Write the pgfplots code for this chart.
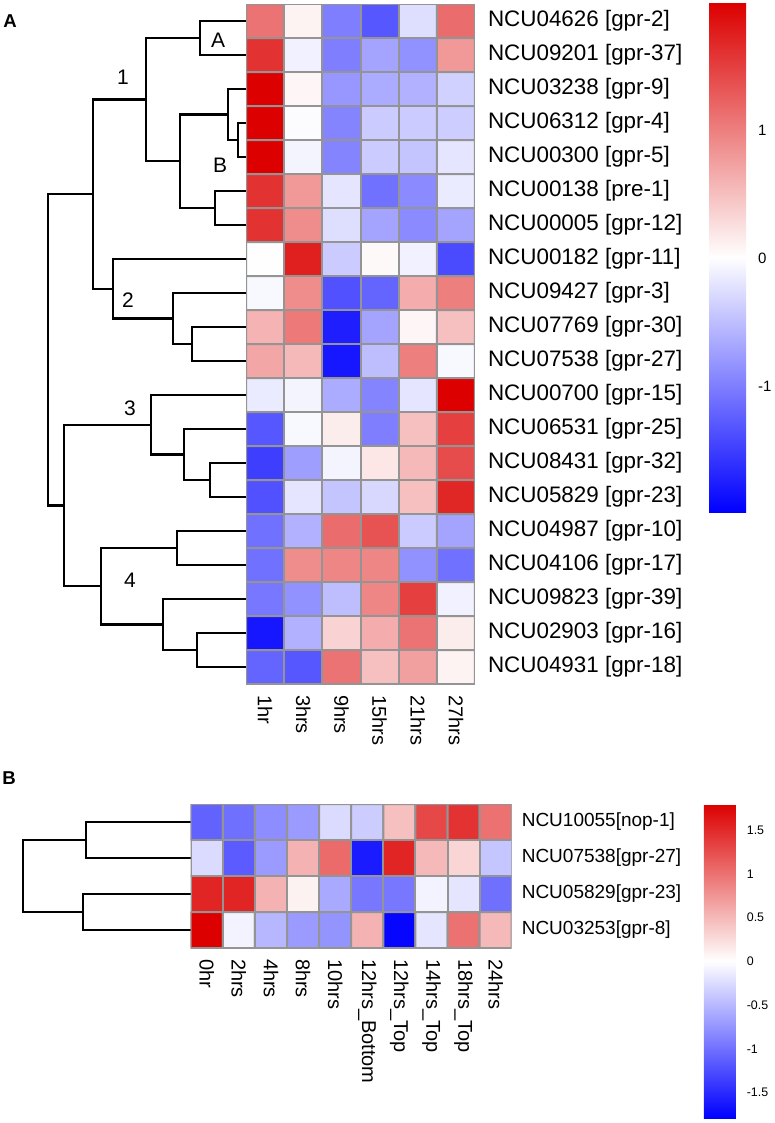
\documentclass[border=0pt]{standalone}
\usepackage{pgfplots}
\usepackage{pgfplotstable}
\usepackage{fontspec}
\setmainfont{Liberation Sans}
\pgfplotsset{compat=1.18}
\pgfplotsset{/pgf/number format/assume math mode=true}
\pgfplotsset{colormap={bwr}{rgb255=(0,0,255) rgb255=(255,255,255) rgb255=(220,0,0)}}

\pgfplotstableread{
x y c
0 0 1.1
1 0 0.1
2 0 -1.0
3 0 -1.3
4 0 -0.25
5 0 1.15
0 1 1.6
1 1 -0.1
2 1 -1.0
3 1 -0.7
4 1 -0.85
5 1 0.8
0 2 2.0
1 2 0.08
2 2 -0.8
3 2 -0.65
4 2 -0.6
5 2 -0.35
0 3 2.0
1 3 -0.02
2 3 -0.95
3 3 -0.4
4 3 -0.4
5 3 -0.38
0 4 2.0
1 4 -0.08
2 4 -0.95
3 4 -0.4
4 4 -0.45
5 4 -0.2
0 5 1.6
1 5 0.8
2 5 -0.2
3 5 -1.1
4 5 -0.9
5 5 -0.15
0 6 1.6
1 6 0.9
2 6 -0.25
3 6 -0.7
4 6 -0.9
5 6 -0.7
0 7 0.0
1 7 1.75
2 7 -0.4
3 7 0.05
4 7 -0.1
5 7 -1.4
0 8 -0.05
1 8 0.9
2 8 -1.35
3 8 -1.2
4 8 0.65
5 8 1.0
0 9 0.6
1 9 1.05
2 9 -1.75
3 9 -0.7
4 9 0.08
5 9 0.5
0 10 0.7
1 10 0.55
2 10 -1.8
3 10 -0.5
4 10 1.0
5 10 -0.05
0 11 -0.15
1 11 -0.08
2 11 -0.65
3 11 -0.95
4 11 -0.2
5 11 2.0
0 12 -1.3
1 12 -0.05
2 12 0.15
3 12 -1.0
4 12 0.5
5 12 1.5
0 13 -1.5
1 13 -0.75
2 13 -0.08
3 13 0.2
4 13 0.55
5 13 1.4
0 14 -1.35
1 14 -0.2
2 14 -0.45
3 14 -0.3
4 14 0.5
5 14 1.7
0 15 -1.1
1 15 -0.6
2 15 1.15
3 15 1.35
4 15 -0.4
5 15 -0.7
0 16 -1.1
1 16 0.9
2 16 0.95
3 16 0.95
4 16 -0.85
5 16 -1.1
0 17 -1.05
1 17 -0.85
2 17 -0.5
3 17 0.95
4 17 1.5
5 17 -0.1
0 18 -1.8
1 18 -0.6
2 18 0.35
3 18 0.65
4 18 1.1
5 18 0.15
0 19 -1.2
1 19 -1.3
2 19 1.1
3 19 0.5
4 19 0.75
5 19 0.1
}\dataA

\pgfplotstableread{
x y c
0 0 -1.1
1 0 -1.0
2 0 -0.8
3 0 -0.7
4 0 -0.25
5 0 -0.35
6 0 0.45
7 0 1.3
8 0 1.45
9 0 1.0
0 1 -0.25
1 1 -1.15
2 1 -0.7
3 1 0.55
4 1 1.05
5 1 -1.6
6 1 1.55
7 1 0.5
8 1 0.3
9 1 -0.4
0 2 1.55
1 2 1.55
2 2 0.55
3 2 0.1
4 2 -0.6
5 2 -0.95
6 2 -0.95
7 2 -0.08
8 2 -0.18
9 2 -1.0
0 3 1.8
1 3 -0.08
2 3 -0.5
3 3 -0.7
4 3 -0.75
5 3 0.55
6 3 -1.75
7 3 -0.18
8 3 1.0
9 3 0.5
}\dataB

\begin{document}
\begin{tikzpicture}
\useasboundingbox (0,0) rectangle (387.5pt,-561.5pt);

% ---------- canvas: dendrograms and labels (pixel coordinates) ----------
\begin{axis}[at={(0pt,0pt)}, anchor=north west, scale only axis,
  width=387.5pt, height=561.5pt, xmin=0, xmax=775, ymin=0, ymax=1123,
  y dir=reverse, hide axis, clip=false,
  dend/.style={black, line width=1.15pt, no marks}]
% panel A
\addplot[dend] coordinates {(246,21)(200,21)(200,55)(246,55)};
\addplot[dend] coordinates {(246,123)(238,123)(238,157)(246,157)};
\addplot[dend] coordinates {(246,89)(228,89)(228,140)(238,140)};
\addplot[dend] coordinates {(246,191)(215,191)(215,225)(246,225)};
\addplot[dend] coordinates {(228,114.5)(180,114.5)(180,208)(215,208)};
\addplot[dend] coordinates {(200,38)(146,38)(146,161.25)(180,161.25)};
\addplot[dend] coordinates {(246,327)(192,327)(192,361)(246,361)};
\addplot[dend] coordinates {(246,293)(173,293)(173,344)(192,344)};
\addplot[dend] coordinates {(246,259)(113,259)(113,318.5)(173,318.5)};
\addplot[dend] coordinates {(146,99.6)(93,99.6)(93,288.75)(113,288.75)};
\addplot[dend] coordinates {(246,463)(210,463)(210,497)(246,497)};
\addplot[dend] coordinates {(246,429)(184,429)(184,480)(210,480)};
\addplot[dend] coordinates {(246,395)(151,395)(151,454.5)(184,454.5)};
\addplot[dend] coordinates {(246,531)(177,531)(177,565)(246,565)};
\addplot[dend] coordinates {(246,633)(197,633)(197,667)(246,667)};
\addplot[dend] coordinates {(246,599)(163,599)(163,650)(197,650)};
\addplot[dend] coordinates {(177,548)(101,548)(101,624.5)(163,624.5)};
\addplot[dend] coordinates {(151,424.75)(64,424.75)(64,586.25)(101,586.25)};
\addplot[dend] coordinates {(93,194.2)(48,194.2)(48,505.5)(64,505.5)};
% panel B
\addplot[dend] coordinates {(190.7,822)(86,822)(86,858)(190.7,858)};
\addplot[dend] coordinates {(190.7,894)(83,894)(83,930)(190.7,930)};
\addplot[dend] coordinates {(86,840)(23,840)(23,912)(83,912)};

\node[font=\fontsize{10.5}{12}\selectfont] at (axis cs:218,40) {A};
\node[font=\fontsize{10.5}{12}\selectfont] at (axis cs:123,77) {1};
\node[font=\fontsize{10.5}{12}\selectfont] at (axis cs:220,165) {B};
\node[font=\fontsize{10.5}{12}\selectfont] at (axis cs:128,300) {2};
\node[font=\fontsize{10.5}{12}\selectfont] at (axis cs:130,408) {3};
\node[font=\fontsize{10.5}{12}\selectfont] at (axis cs:130,580) {4};
\node[font=\bfseries\fontsize{9.3}{11}\selectfont] at (axis cs:10,21.5) {A};
\node[font=\bfseries\fontsize{9.3}{11}\selectfont] at (axis cs:9,778) {B};
\end{axis}

% ---------- heatmap A ----------
\begin{axis}[at={(123pt,-2pt)}, anchor=north west, scale only axis,
  width=114.5pt, height=340pt,
  xmin=-0.5, xmax=5.5, ymin=-0.5, ymax=19.5, y dir=reverse,
  enlargelimits=false, axis line style={draw=none}, major tick length=0pt,
  colormap name=bwr, point meta min=-1.98, point meta max=1.99,
  xtick={0,...,5}, xticklabels={1hr,3hrs,9hrs,15hrs,21hrs,27hrs},
  xticklabel style={rotate=-90, anchor=west, font=\fontsize{10}{12}\selectfont, xshift=2pt},
  ytick={0,...,19}, yticklabel pos=right,
  yticklabels={NCU04626 [gpr-2],NCU09201 [gpr-37],NCU03238 [gpr-9],NCU06312 [gpr-4],NCU00300 [gpr-5],NCU00138 [pre-1],NCU00005 [gpr-12],NCU00182 [gpr-11],NCU09427 [gpr-3],NCU07769 [gpr-30],NCU07538 [gpr-27],NCU00700 [gpr-15],NCU06531 [gpr-25],NCU08431 [gpr-32],NCU05829 [gpr-23],NCU04987 [gpr-10],NCU04106 [gpr-17],NCU09823 [gpr-39],NCU02903 [gpr-16],NCU04931 [gpr-18]},
  yticklabel style={anchor=west, font=\fontsize{11.2}{13}\selectfont, xshift=3pt},
  colorbar, colorbar/width=18.5pt,
  colorbar style={at={(parent axis.north east)}, anchor=north west,
    xshift=108.5pt, yshift=0.5pt, height=254.5pt,
    ytick={-1,0,1}, major tick length=0pt, axis line style={draw=none},
    yticklabel style={font=\fontsize{7.5}{9}\selectfont, xshift=2.5pt}}]
\addplot[matrix plot, shader=faceted, faceted color=black!42, line width=1pt,
  mesh/cols=6, point meta=explicit] table[x=x, y=y, meta=c] {\dataA};
\end{axis}

% ---------- heatmap B ----------
\begin{axis}[at={(95.35pt,-402pt)}, anchor=north west, scale only axis,
  width=160.5pt, height=72pt,
  xmin=-0.5, xmax=9.5, ymin=-0.5, ymax=3.5, y dir=reverse,
  enlargelimits=false, axis line style={draw=none}, major tick length=0pt,
  colormap name=bwr, point meta min=-1.79, point meta max=1.8,
  xtick={0,...,9},
  xticklabels={0hr,2hrs,4hrs,8hrs,10hrs,12hrs\_Bottom,12hrs\_Top,14hrs\_Top,18hrs\_Top,24hrs},
  xticklabel style={rotate=-90, anchor=west, font=\fontsize{10}{12}\selectfont, xshift=2pt},
  ytick={0,...,3}, yticklabel pos=right,
  yticklabels={NCU10055[nop-1],NCU07538[gpr-27],NCU05829[gpr-23],NCU03253[gpr-8]},
  yticklabel style={anchor=west, font=\fontsize{9.5}{12}\selectfont, xshift=1.5pt},
  colorbar, colorbar/width=16pt,
  colorbar style={at={(parent axis.north east)}, anchor=north west,
    xshift=87.5pt, yshift=0pt, height=157pt,
    ytick={-1.5,-1,-0.5,0,0.5,1,1.5}, major tick length=0pt, axis line style={draw=none},
    yticklabel style={font=\fontsize{6.2}{7.5}\selectfont, xshift=2pt}}]
\addplot[matrix plot, shader=faceted, faceted color=black!42, line width=1pt,
  mesh/cols=10, point meta=explicit] table[x=x, y=y, meta=c] {\dataB};
\end{axis}
\end{tikzpicture}
\end{document}
